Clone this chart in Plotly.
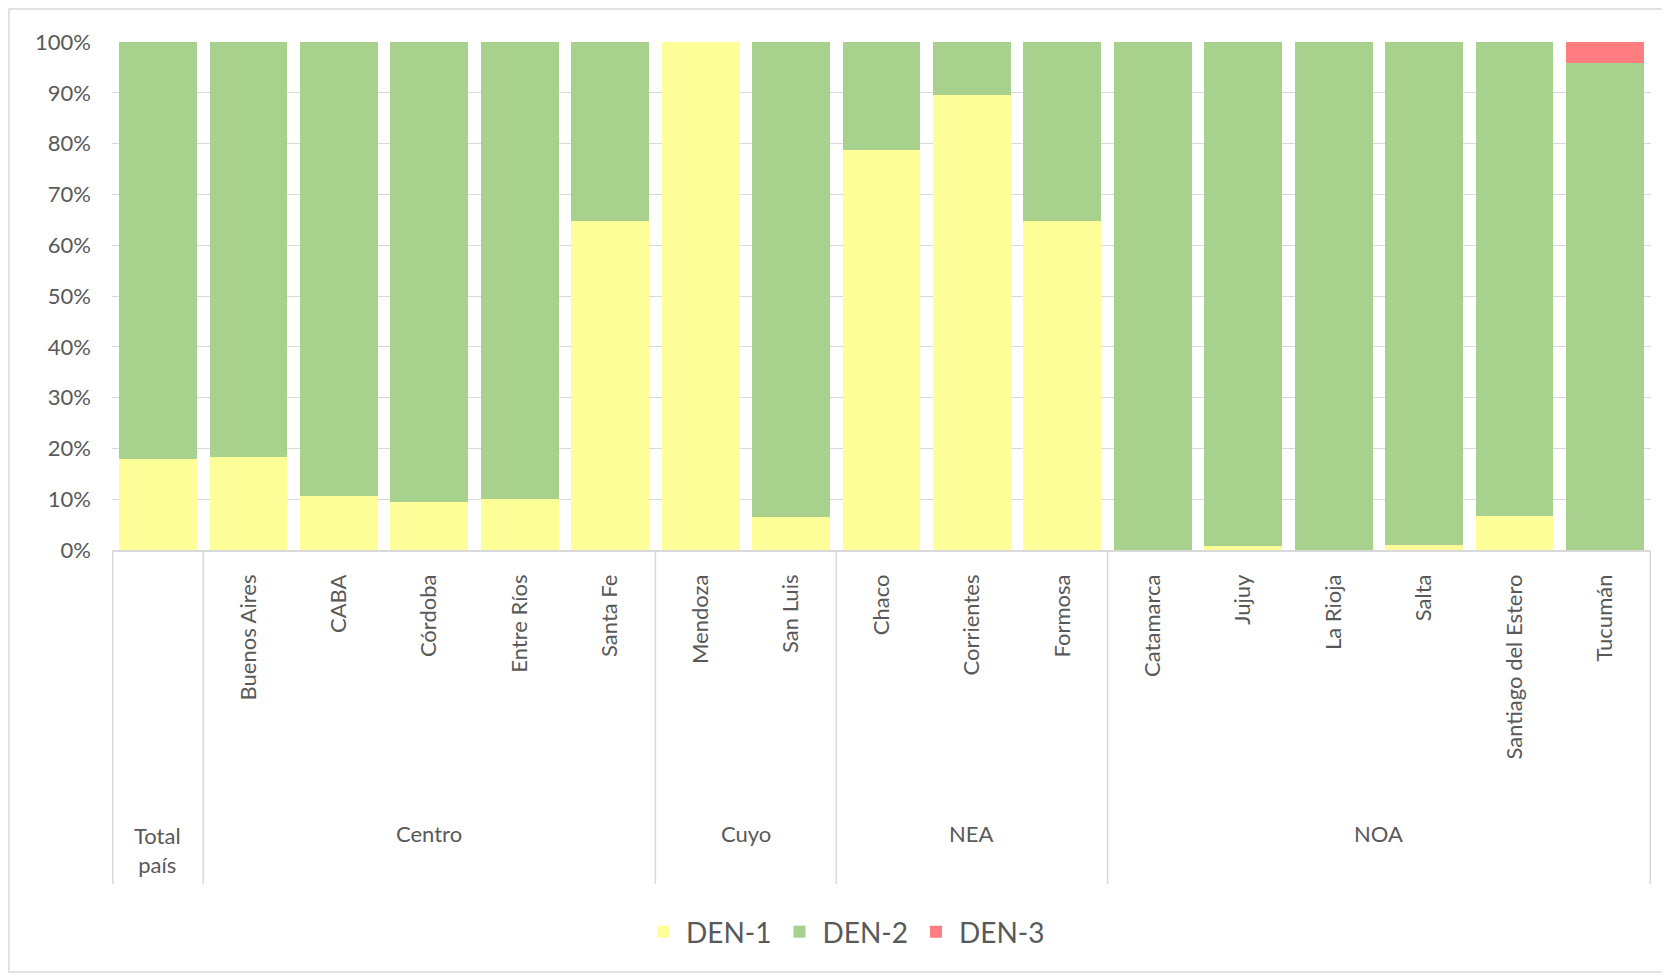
import plotly.graph_objects as go

# ---- data ----
groups = ["Total país", "Centro", "Cuyo", "NEA", "NOA"]
group_sizes = [1, 5, 2, 3, 6]
categories = ["Total país", "Buenos Aires", "CABA", "Córdoba", "Entre Ríos", "Santa Fe",
              "Mendoza", "San Luis", "Chaco", "Corrientes", "Formosa",
              "Catamarca", "Jujuy", "La Rioja", "Salta", "Santiago del Estero", "Tucumán"]
tick_labels = ["", "Buenos Aires", "CABA", "Córdoba", "Entre Ríos", "Santa Fe",
               "Mendoza", "San Luis", "Chaco", "Corrientes", "Formosa",
               "Catamarca", "Jujuy", "La Rioja", "Salta", "Santiago del Estero", "Tucumán"]
den1 = [18.0, 18.4, 10.7, 9.4, 10.1, 64.8, 100.0, 6.5, 78.8, 89.5, 64.8,
        0.0, 0.7, 0.0, 1.0, 6.6, 0.0]
den3 = [0, 0, 0, 0, 0, 0, 0, 0, 0, 0, 0, 0, 0, 0, 0, 0, 4.2]
den2 = [round(100 - a - c, 1) for a, c in zip(den1, den3)]
group_labels = ["Total<br>país", "Centro", "Cuyo", "NEA", "NOA"]

FONT = "Lato"
TXT = "#595959"

fig = go.Figure()
fig.add_bar(x=categories, y=den1, name="DEN-1", marker_color="#FFFF99", marker_line_width=0)
fig.add_bar(x=categories, y=den2, name="DEN-2", marker_color="#A9D18E", marker_line_width=0)
fig.add_bar(x=categories, y=den3, name="DEN-3", marker_color="#FF7C80", marker_line_width=0)

# page has an 8px body margin; target positions are screen pixels
OFF = 8
W, H = 1670, 977
plot_left, plot_right, plot_top, plot_bottom = 112, 1651, 42, 550
L = plot_left - OFF
T = plot_top - OFF
R = W - (plot_right - OFF)
B = H - (plot_bottom - OFF)
ph = plot_bottom - plot_top
pw = plot_right - plot_left

def py(screen_y):
    return (plot_bottom - screen_y) / ph

def px(screen_x):
    return (screen_x - plot_left) / pw

shapes = []
annotations = []
start = 0
bounds = [-0.5]
for g, lab, n in zip(groups, group_labels, group_sizes):
    center = start + (n - 1) / 2
    yy = 850 if "<br>" in lab else 833
    annotations.append(dict(x=center, y=py(yy), xref="x", yref="paper", text=lab,
                            showarrow=False, yanchor="middle", xanchor="center",
                            font=dict(family=FONT, size=22, color=TXT)))
    start += n
    bounds.append(start - 0.5)

for b in bounds:
    shapes.append(dict(type="line", xref="x", yref="paper", x0=b, x1=b,
                       y0=0, y1=py(884), line=dict(color="#D9D9D9", width=1.5)))

# outer chart border
shapes.append(dict(type="rect", xref="paper", yref="paper",
                   x0=px(9), x1=px(1667), y0=py(972), y1=py(9),
                   line=dict(color="#D9D9D9", width=1.5), fillcolor="rgba(0,0,0,0)", layer="below"))

fig.update_layout(
    barmode="stack",
    bargap=0.14,
    width=W, height=H,
    margin=dict(l=L, r=R, t=T, b=B, autoexpand=False),
    paper_bgcolor="white", plot_bgcolor="white",
    font=dict(family=FONT, size=22, color=TXT),
    showlegend=True,
    legend=dict(orientation="h", x=px(845), y=py(932), xanchor="center", yanchor="middle",
                font=dict(family=FONT, size=28, color=TXT), traceorder="normal",
                itemwidth=36, tracegroupgap=0),
    shapes=shapes,
    annotations=annotations,
    xaxis=dict(type="category", categoryorder="array", categoryarray=categories,
               tickmode="array", tickvals=categories, ticktext=tick_labels,
               tickangle=-90, showgrid=False, showline=True, linecolor="#D9D9D9", linewidth=1.5,
               ticks="", ticklabelstandoff=14,
               tickfont=dict(family=FONT, size=22, color=TXT)),
    yaxis=dict(range=[0, 100], dtick=10, ticksuffix="%", showgrid=True, gridcolor="#D9D9D9",
               gridwidth=1, zeroline=False, showline=False, ticks="", ticklabelstandoff=20,
               tickfont=dict(family=FONT, size=22, color=TXT)),
)

fig.write_html("out.html")
